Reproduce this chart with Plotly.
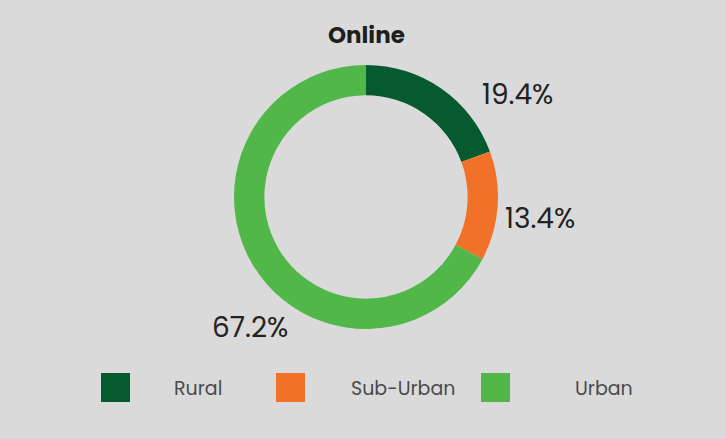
import math
import plotly.graph_objects as go

categories = ["Rural", "Sub-Urban", "Urban"]
values = [19.4, 13.4, 67.2]
colors = ["#055a2f", "#f07127", "#50b748"]
title_text = "Online"

W, H = 726, 439
BG = "#dadada"
FONT = "Poppins, Inter, 'Open Sans', sans-serif"

cx, cy, R = 366, 197, 132
fig = go.Figure()
fig.add_trace(go.Pie(
    labels=categories,
    values=values,
    sort=False,
    direction="clockwise",
    rotation=0,
    hole=0.77,
    marker=dict(colors=colors, line=dict(width=0)),
    textinfo="none",
    hoverinfo="label+percent",
    showlegend=False,
    domain=dict(x=[(cx - R) / W, (cx + R) / W],
                y=[(H - cy - R) / H, (H - cy + R) / H]),
))

# percentage labels placed around the ring, derived from slice angles
label_angle_shift = [21, 3, -17.5]
label_radius = [183, 175, 175]
total = sum(values)
cum = 0
for i, v in enumerate(values):
    mid = (cum + v / 2) / total * 360
    cum += v
    th = math.radians(mid + label_angle_shift[i])
    px = cx + label_radius[i] * math.sin(th)
    py = cy - label_radius[i] * math.cos(th)
    fig.add_annotation(text=f"{v / total * 100:.1f}%", x=px / W, y=1 - py / H,
                       xref="paper", yref="paper", showarrow=False,
                       xanchor="center", yanchor="middle",
                       font=dict(size=28, color="#222222", family=FONT))

# title
fig.add_annotation(text=f"<b>{title_text}</b>", x=367 / W, y=1 - 35 / H, xref="paper", yref="paper",
                   showarrow=False, font=dict(size=23, color="#1e1e1e", family=FONT),
                   xanchor="center", yanchor="middle")

# custom legend
sq_x = [101, 276, 481]
txt_x = [172, 349, 573]
for i, (lab, col) in enumerate(zip(categories, colors)):
    fig.add_shape(type="rect", xref="paper", yref="paper",
                  x0=sq_x[i] / W, x1=(sq_x[i] + 29) / W,
                  y0=1 - 402 / H, y1=1 - 373 / H,
                  fillcolor=col, line=dict(width=0))
    fig.add_annotation(text=lab, x=txt_x[i] / W, y=1 - 388 / H, xref="paper", yref="paper",
                       showarrow=False, xanchor="left", yanchor="middle",
                       font=dict(size=19, color="#4a4a4a", family=FONT))

fig.update_layout(
    width=W, height=H,
    margin=dict(l=0, r=0, t=0, b=0),
    paper_bgcolor=BG, plot_bgcolor=BG,
    showlegend=False,
)

fig.write_html("out.html", config={"displayModeBar": False},
               post_script="document.body.style.margin='0';document.body.style.overflow='hidden';")
